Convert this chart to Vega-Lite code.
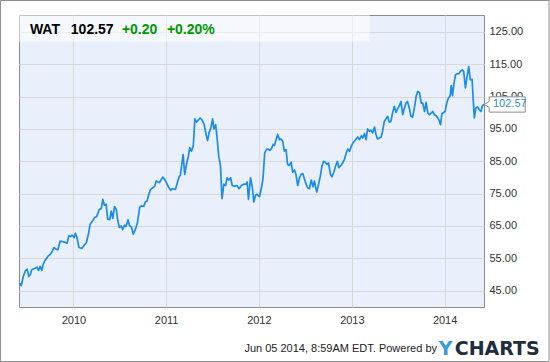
{
  "$schema": "https://vega.github.io/schema/vega-lite/v6.json",
  "width": 465,
  "height": 292,
  "autosize": {"type": "none"},
  "padding": {"left": 19, "top": 15, "right": 66, "bottom": 55},
  "background": "#ffffff",
  "config": {
    "view": {"fill": "#eaf0fb", "stroke": "#8c8c8c", "strokeWidth": 1},
    "font": "Liberation Sans",
    "axis": {
      "labelFont": "Liberation Sans",
      "labelFontSize": 11,
      "labelColor": "#333333",
      "gridColor": "#d6d8dc",
      "gridWidth": 1,
      "domain": false,
      "ticks": false,
      "title": null,
      "zindex": 0,
      "labelOverlap": false
    }
  },
  "layer": [
    {
      "data": {"values": [{}]},
      "mark": {"type": "rect", "fill": "#ffffff", "opacity": 0.5},
      "encoding": {
        "x": {"datum": {"year": 2009, "month": 6, "date": 1}, "type": "temporal"},
        "x2": {"datum": {"year": 2013, "month": 3, "date": 12}},
        "y": {"datum": 122.0, "type": "quantitative"},
        "y2": {"datum": 130.26}
      }
    },
    {
      "data": {
        "values": [
          {"date": "2009-06-03", "price": 47.3},
          {"date": "2009-06-10", "price": 46.5},
          {"date": "2009-06-17", "price": 49.1},
          {"date": "2009-06-26", "price": 51.1},
          {"date": "2009-07-03", "price": 51.6},
          {"date": "2009-07-10", "price": 49.3},
          {"date": "2009-07-16", "price": 50.0},
          {"date": "2009-07-21", "price": 51.4},
          {"date": "2009-08-01", "price": 51.8},
          {"date": "2009-08-11", "price": 52.2},
          {"date": "2009-08-17", "price": 51.2},
          {"date": "2009-08-23", "price": 52.5},
          {"date": "2009-08-30", "price": 51.2},
          {"date": "2009-09-03", "price": 52.9},
          {"date": "2009-09-12", "price": 54.4},
          {"date": "2009-09-23", "price": 55.6},
          {"date": "2009-10-01", "price": 56.1},
          {"date": "2009-10-09", "price": 57.0},
          {"date": "2009-10-16", "price": 58.3},
          {"date": "2009-10-24", "price": 57.8},
          {"date": "2009-11-01", "price": 57.6},
          {"date": "2009-11-10", "price": 60.3},
          {"date": "2009-11-21", "price": 60.1},
          {"date": "2009-11-30", "price": 59.9},
          {"date": "2009-12-07", "price": 59.6},
          {"date": "2009-12-14", "price": 61.9},
          {"date": "2009-12-21", "price": 61.7},
          {"date": "2009-12-27", "price": 62.1},
          {"date": "2010-01-04", "price": 61.4},
          {"date": "2010-01-09", "price": 62.7},
          {"date": "2010-01-15", "price": 61.4},
          {"date": "2010-01-23", "price": 58.3},
          {"date": "2010-02-04", "price": 58.0},
          {"date": "2010-02-12", "price": 59.0},
          {"date": "2010-02-21", "price": 59.8},
          {"date": "2010-03-01", "price": 62.4},
          {"date": "2010-03-08", "price": 65.5},
          {"date": "2010-03-17", "price": 66.5},
          {"date": "2010-03-26", "price": 67.6},
          {"date": "2010-04-03", "price": 67.9},
          {"date": "2010-04-13", "price": 70.1},
          {"date": "2010-04-21", "price": 70.4},
          {"date": "2010-04-27", "price": 73.2},
          {"date": "2010-05-03", "price": 71.4},
          {"date": "2010-05-10", "price": 71.7},
          {"date": "2010-05-16", "price": 67.1},
          {"date": "2010-05-24", "price": 66.9},
          {"date": "2010-05-30", "price": 69.6},
          {"date": "2010-06-05", "price": 67.3},
          {"date": "2010-06-12", "price": 71.0},
          {"date": "2010-06-19", "price": 70.1},
          {"date": "2010-06-25", "price": 66.5},
          {"date": "2010-07-01", "price": 64.5},
          {"date": "2010-07-08", "price": 65.0},
          {"date": "2010-07-14", "price": 63.8},
          {"date": "2010-07-21", "price": 65.2},
          {"date": "2010-07-27", "price": 64.8},
          {"date": "2010-08-04", "price": 66.9},
          {"date": "2010-08-10", "price": 65.0},
          {"date": "2010-08-17", "price": 64.8},
          {"date": "2010-08-25", "price": 62.4},
          {"date": "2010-09-02", "price": 63.9},
          {"date": "2010-09-10", "price": 66.0},
          {"date": "2010-09-19", "price": 70.7},
          {"date": "2010-09-26", "price": 71.2},
          {"date": "2010-10-05", "price": 71.0},
          {"date": "2010-10-11", "price": 72.4},
          {"date": "2010-10-18", "price": 72.7},
          {"date": "2010-10-25", "price": 74.8},
          {"date": "2010-11-01", "price": 76.3},
          {"date": "2010-11-10", "price": 76.8},
          {"date": "2010-11-17", "price": 77.3},
          {"date": "2010-11-23", "price": 78.9},
          {"date": "2010-11-30", "price": 78.6},
          {"date": "2010-12-06", "price": 78.4},
          {"date": "2010-12-13", "price": 79.4},
          {"date": "2010-12-19", "price": 80.1},
          {"date": "2010-12-26", "price": 79.4},
          {"date": "2011-01-02", "price": 78.4},
          {"date": "2011-01-12", "price": 76.8},
          {"date": "2011-01-19", "price": 76.0},
          {"date": "2011-01-26", "price": 76.5},
          {"date": "2011-02-07", "price": 76.3},
          {"date": "2011-02-16", "price": 78.9},
          {"date": "2011-02-22", "price": 80.4},
          {"date": "2011-02-26", "price": 80.6},
          {"date": "2011-03-02", "price": 83.0},
          {"date": "2011-03-09", "price": 87.1},
          {"date": "2011-03-15", "price": 80.9},
          {"date": "2011-03-22", "price": 84.0},
          {"date": "2011-03-29", "price": 86.4},
          {"date": "2011-04-04", "price": 89.2},
          {"date": "2011-04-11", "price": 88.1},
          {"date": "2011-04-18", "price": 89.9},
          {"date": "2011-04-24", "price": 98.1},
          {"date": "2011-05-01", "price": 97.1},
          {"date": "2011-05-07", "price": 97.7},
          {"date": "2011-05-15", "price": 98.4},
          {"date": "2011-05-23", "price": 97.7},
          {"date": "2011-05-31", "price": 96.3},
          {"date": "2011-06-06", "price": 93.8},
          {"date": "2011-06-13", "price": 91.4},
          {"date": "2011-06-19", "price": 93.8},
          {"date": "2011-06-26", "price": 95.3},
          {"date": "2011-07-03", "price": 98.1},
          {"date": "2011-07-08", "price": 95.0},
          {"date": "2011-07-15", "price": 96.3},
          {"date": "2011-07-20", "price": 92.7},
          {"date": "2011-07-27", "price": 86.6},
          {"date": "2011-08-03", "price": 83.5},
          {"date": "2011-08-09", "price": 73.4},
          {"date": "2011-08-16", "price": 77.9},
          {"date": "2011-08-23", "price": 77.5},
          {"date": "2011-08-29", "price": 79.9},
          {"date": "2011-09-05", "price": 79.2},
          {"date": "2011-09-12", "price": 79.9},
          {"date": "2011-09-18", "price": 77.5},
          {"date": "2011-09-28", "price": 77.3},
          {"date": "2011-10-07", "price": 77.5},
          {"date": "2011-10-15", "price": 76.5},
          {"date": "2011-10-24", "price": 77.5},
          {"date": "2011-11-03", "price": 77.9},
          {"date": "2011-11-12", "price": 77.9},
          {"date": "2011-11-16", "price": 78.6},
          {"date": "2011-11-21", "price": 73.2},
          {"date": "2011-11-29", "price": 79.9},
          {"date": "2011-12-06", "price": 77.1},
          {"date": "2011-12-12", "price": 72.4},
          {"date": "2011-12-19", "price": 74.5},
          {"date": "2011-12-25", "price": 74.8},
          {"date": "2011-12-30", "price": 74.3},
          {"date": "2012-01-04", "price": 74.1},
          {"date": "2012-01-11", "price": 76.8},
          {"date": "2012-01-17", "price": 79.4},
          {"date": "2012-01-24", "price": 87.6},
          {"date": "2012-01-31", "price": 88.6},
          {"date": "2012-02-06", "price": 88.8},
          {"date": "2012-02-13", "price": 88.4},
          {"date": "2012-02-19", "price": 88.8},
          {"date": "2012-02-26", "price": 90.2},
          {"date": "2012-03-02", "price": 89.9},
          {"date": "2012-03-09", "price": 91.7},
          {"date": "2012-03-15", "price": 93.3},
          {"date": "2012-03-22", "price": 91.7},
          {"date": "2012-03-28", "price": 91.9},
          {"date": "2012-04-04", "price": 91.2},
          {"date": "2012-04-10", "price": 88.1},
          {"date": "2012-04-17", "price": 88.6},
          {"date": "2012-04-23", "price": 84.0},
          {"date": "2012-04-30", "price": 83.7},
          {"date": "2012-05-07", "price": 84.7},
          {"date": "2012-05-13", "price": 81.6},
          {"date": "2012-05-20", "price": 82.3},
          {"date": "2012-05-26", "price": 80.9},
          {"date": "2012-06-02", "price": 77.5},
          {"date": "2012-06-09", "price": 79.9},
          {"date": "2012-06-15", "price": 80.9},
          {"date": "2012-06-22", "price": 81.2},
          {"date": "2012-06-28", "price": 79.6},
          {"date": "2012-07-05", "price": 77.9},
          {"date": "2012-07-11", "price": 76.8},
          {"date": "2012-07-18", "price": 76.5},
          {"date": "2012-07-25", "price": 79.2},
          {"date": "2012-08-01", "price": 77.1},
          {"date": "2012-08-07", "price": 78.9},
          {"date": "2012-08-11", "price": 77.1},
          {"date": "2012-08-16", "price": 75.5},
          {"date": "2012-08-23", "price": 77.9},
          {"date": "2012-08-30", "price": 80.4},
          {"date": "2012-09-05", "price": 83.5},
          {"date": "2012-09-12", "price": 85.0},
          {"date": "2012-09-18", "price": 84.7},
          {"date": "2012-09-25", "price": 84.0},
          {"date": "2012-10-01", "price": 84.5},
          {"date": "2012-10-09", "price": 80.9},
          {"date": "2012-10-15", "price": 80.2},
          {"date": "2012-10-22", "price": 81.6},
          {"date": "2012-10-29", "price": 83.5},
          {"date": "2012-11-05", "price": 85.0},
          {"date": "2012-11-11", "price": 83.0},
          {"date": "2012-11-22", "price": 84.0},
          {"date": "2012-12-03", "price": 85.6},
          {"date": "2012-12-10", "price": 87.6},
          {"date": "2012-12-16", "price": 88.8},
          {"date": "2012-12-23", "price": 88.1},
          {"date": "2012-12-29", "price": 89.5},
          {"date": "2013-01-05", "price": 90.7},
          {"date": "2013-01-11", "price": 91.2},
          {"date": "2013-01-18", "price": 91.9},
          {"date": "2013-01-24", "price": 92.5},
          {"date": "2013-01-31", "price": 91.7},
          {"date": "2013-02-07", "price": 92.9},
          {"date": "2013-02-13", "price": 92.2},
          {"date": "2013-02-20", "price": 93.6},
          {"date": "2013-02-26", "price": 91.7},
          {"date": "2013-03-04", "price": 95.0},
          {"date": "2013-03-11", "price": 94.3},
          {"date": "2013-03-17", "price": 94.6},
          {"date": "2013-03-24", "price": 93.8},
          {"date": "2013-03-31", "price": 95.6},
          {"date": "2013-04-06", "price": 93.3},
          {"date": "2013-04-12", "price": 91.9},
          {"date": "2013-04-19", "price": 92.2},
          {"date": "2013-04-26", "price": 92.5},
          {"date": "2013-05-02", "price": 94.3},
          {"date": "2013-05-09", "price": 97.4},
          {"date": "2013-05-15", "price": 98.1},
          {"date": "2013-05-22", "price": 98.9},
          {"date": "2013-05-28", "price": 97.1},
          {"date": "2013-06-04", "price": 97.4},
          {"date": "2013-06-10", "price": 99.9},
          {"date": "2013-06-17", "price": 102.0},
          {"date": "2013-06-24", "price": 100.1},
          {"date": "2013-06-30", "price": 101.2},
          {"date": "2013-07-07", "price": 102.2},
          {"date": "2013-07-13", "price": 103.5},
          {"date": "2013-07-20", "price": 99.4},
          {"date": "2013-07-26", "price": 101.2},
          {"date": "2013-08-02", "price": 103.0},
          {"date": "2013-08-08", "price": 103.5},
          {"date": "2013-08-15", "price": 101.5},
          {"date": "2013-08-21", "price": 99.0},
          {"date": "2013-08-28", "price": 98.6},
          {"date": "2013-09-04", "price": 101.5},
          {"date": "2013-09-11", "price": 105.1},
          {"date": "2013-09-17", "price": 106.6},
          {"date": "2013-09-24", "price": 106.3},
          {"date": "2013-10-01", "price": 103.0},
          {"date": "2013-10-07", "price": 103.0},
          {"date": "2013-10-14", "price": 100.4},
          {"date": "2013-10-20", "price": 103.2},
          {"date": "2013-10-27", "price": 99.9},
          {"date": "2013-11-02", "price": 99.4},
          {"date": "2013-11-09", "price": 99.9},
          {"date": "2013-11-15", "price": 100.4},
          {"date": "2013-11-22", "price": 99.4},
          {"date": "2013-11-29", "price": 99.1},
          {"date": "2013-12-05", "price": 98.4},
          {"date": "2013-12-12", "price": 97.4},
          {"date": "2013-12-16", "price": 96.3},
          {"date": "2013-12-21", "price": 99.7},
          {"date": "2013-12-28", "price": 100.1},
          {"date": "2014-01-03", "price": 100.4},
          {"date": "2014-01-10", "price": 103.2},
          {"date": "2014-01-16", "price": 104.6},
          {"date": "2014-01-23", "price": 105.3},
          {"date": "2014-01-27", "price": 108.4},
          {"date": "2014-02-01", "price": 105.3},
          {"date": "2014-02-07", "price": 109.2},
          {"date": "2014-02-13", "price": 111.8},
          {"date": "2014-02-20", "price": 112.1},
          {"date": "2014-02-26", "price": 112.1},
          {"date": "2014-03-04", "price": 112.8},
          {"date": "2014-03-11", "price": 113.3},
          {"date": "2014-03-17", "price": 112.8},
          {"date": "2014-03-24", "price": 107.7},
          {"date": "2014-03-30", "price": 111.2},
          {"date": "2014-04-06", "price": 114.3},
          {"date": "2014-04-12", "price": 110.2},
          {"date": "2014-04-19", "price": 110.4},
          {"date": "2014-04-24", "price": 103.5},
          {"date": "2014-04-28", "price": 98.4},
          {"date": "2014-05-04", "price": 101.5},
          {"date": "2014-05-11", "price": 101.8},
          {"date": "2014-05-17", "price": 101.0},
          {"date": "2014-05-24", "price": 100.4},
          {"date": "2014-05-30", "price": 102.2},
          {"date": "2014-06-05", "price": 102.57}
        ]
      },
      "mark": {"type": "line", "color": "#1b8ceb", "strokeWidth": 1.7, "strokeJoin": "round"},
      "encoding": {
        "x": {
          "field": "date",
          "type": "temporal",
          "scale": {"domain": [{"year": 2009, "month": 6, "date": 1}, {"year": 2014, "month": 6, "date": 5}], "nice": false},
          "axis": {
            "orient": "bottom",
            "grid": true,
            "tickCount": {"interval": "year", "step": 1},
            "format": "%Y",
            "labelPadding": 7,
            "labelFlush": false
          }
        },
        "y": {
          "field": "price",
          "type": "quantitative",
          "scale": {"domain": [39.9, 130.26], "nice": false, "zero": false},
          "axis": {
            "orient": "right",
            "grid": true,
            "values": [45, 55, 65, 75, 85, 95, 105, 115, 125],
            "tickCount": 12,
            "format": ".2f",
            "labelPadding": 5,
            "labelOverlap": false
          }
        }
      }
    },
    {
      "data": {"values": [{}]},
      "mark": {
        "type": "point",
        "shape": "M -1 0 L -0.756 -0.146 L -0.756 -0.373 L 1 -0.373 L 1 0.373 L -0.756 0.373 L -0.756 0.146 Z",
        "size": 1681,
        "filled": true,
        "fill": "#ffffff",
        "stroke": "#8c8c8c",
        "strokeWidth": 1,
        "opacity": 1,
        "xOffset": 20.7
      },
      "encoding": {
        "x": {"datum": {"year": 2014, "month": 6, "date": 5}, "type": "temporal"},
        "y": {"datum": 102.57, "type": "quantitative"}
      }
    },
    {
      "data": {"values": [{}]},
      "mark": {"type": "text", "text": "102.57", "align": "left", "baseline": "middle", "dx": 9, "fontSize": 11, "color": "#2d8fe6", "font": "Liberation Sans"},
      "encoding": {
        "x": {"datum": {"year": 2014, "month": 6, "date": 5}, "type": "temporal"},
        "y": {"datum": 102.57, "type": "quantitative"}
      }
    },
    {
      "data": {"values": [{}]},
      "mark": {"type": "text", "text": "WAT", "align": "left", "baseline": "alphabetic", "fontSize": 14, "fontWeight": "bold", "color": "#000000", "font": "Liberation Sans"},
      "encoding": {
        "x": {"datum": {"year": 2009, "month": 7, "date": 14}, "type": "temporal"},
        "y": {"datum": 124.38, "type": "quantitative"}
      }
    },
    {
      "data": {"values": [{}]},
      "mark": {"type": "text", "text": "102.57", "align": "left", "baseline": "alphabetic", "fontSize": 14, "fontWeight": "bold", "color": "#000000", "font": "Liberation Sans"},
      "encoding": {
        "x": {"datum": {"year": 2009, "month": 12, "date": 22}, "type": "temporal"},
        "y": {"datum": 124.38, "type": "quantitative"}
      }
    },
    {
      "data": {"values": [{}]},
      "mark": {"type": "text", "text": "+0.20", "align": "left", "baseline": "alphabetic", "fontSize": 14, "fontWeight": "bold", "color": "#009900", "font": "Liberation Sans"},
      "encoding": {
        "x": {"datum": {"year": 2010, "month": 7, "date": 11}, "type": "temporal"},
        "y": {"datum": 124.38, "type": "quantitative"}
      }
    },
    {
      "data": {"values": [{}]},
      "mark": {"type": "text", "text": "+0.20%", "align": "left", "baseline": "alphabetic", "fontSize": 14, "fontWeight": "bold", "color": "#009900", "font": "Liberation Sans"},
      "encoding": {
        "x": {"datum": {"year": 2011, "month": 1, "date": 4}, "type": "temporal"},
        "y": {"datum": 124.38, "type": "quantitative"}
      }
    },
    {
      "data": {"values": [{}]},
      "mark": {"type": "text", "text": "Jun 05 2014, 8:59AM EDT.  Powered by", "align": "left", "baseline": "alphabetic", "fontSize": 11, "color": "#222222", "font": "Liberation Sans"},
      "encoding": {
        "x": {"datum": {"year": 2011, "month": 11, "date": 5}, "type": "temporal"},
        "y": {"datum": 25.96, "type": "quantitative"}
      }
    },
    {
      "data": {"values": [{}]},
      "mark": {"type": "text", "text": "Y", "align": "left", "baseline": "alphabetic", "fontSize": 19, "fontWeight": "bold", "color": "#3a9bdc", "font": "DejaVu Sans"},
      "encoding": {
        "x": {"datum": {"year": 2013, "month": 12, "date": 9}, "type": "temporal"},
        "y": {"datum": 25.03, "type": "quantitative"}
      }
    },
    {
      "data": {"values": [{}]},
      "mark": {"type": "text", "text": "CHARTS", "align": "left", "baseline": "alphabetic", "fontSize": 19, "fontWeight": "bold", "color": "#1f2d3d", "font": "DejaVu Sans"},
      "encoding": {
        "x": {"datum": {"year": 2014, "month": 2, "date": 10}, "type": "temporal"},
        "y": {"datum": 25.03, "type": "quantitative"}
      }
    },
    {
      "data": {"values": [{}]},
      "mark": {"type": "rect", "fillOpacity": 0, "stroke": "#8c8c8c", "strokeWidth": 1},
      "encoding": {
        "x": {"datum": {"year": 2009, "month": 3, "date": 20}, "type": "temporal"},
        "x2": {"datum": {"year": 2015, "month": 2, "date": 16}},
        "y": {"datum": 134.75, "type": "quantitative"},
        "y2": {"datum": 23.02}
      }
    }
  ]
}
